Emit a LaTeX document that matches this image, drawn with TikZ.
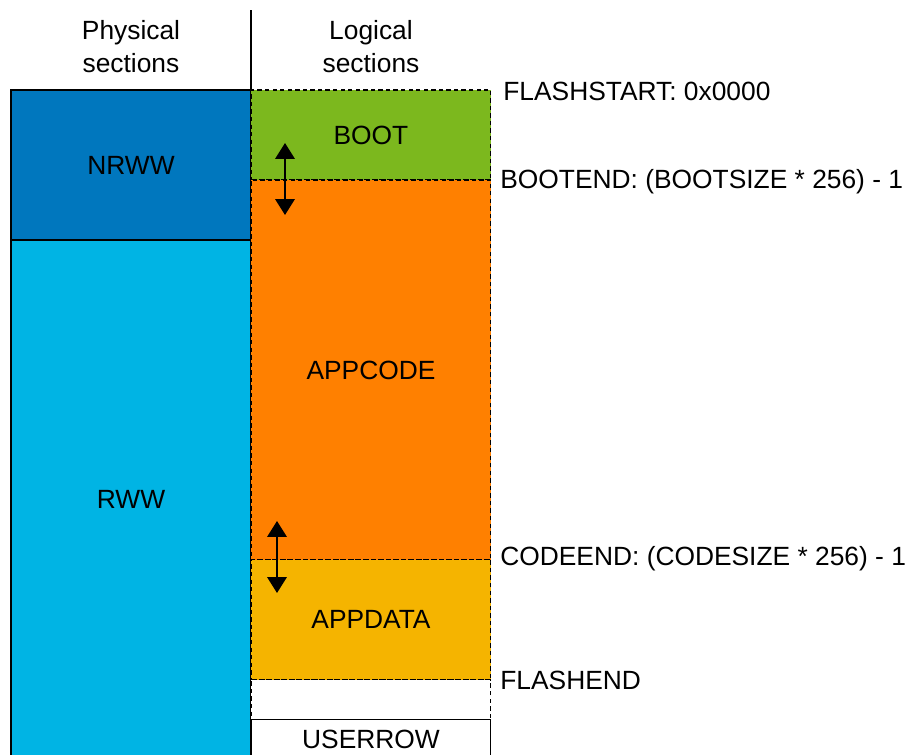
\documentclass[tikz,border=0pt]{standalone}
\usepackage{fontspec}
\setmainfont{Liberation Sans}
\usetikzlibrary{arrows.meta,positioning}
\definecolor{nrwwblue}{RGB}{0,119,190}
\definecolor{rwwblue}{RGB}{0,180,228}
\definecolor{bootgreen}{RGB}{124,184,30}
\definecolor{codeorange}{RGB}{255,128,0}
\definecolor{datayellow}{RGB}{245,180,0}
\begin{document}
\begin{tikzpicture}[x=0.02cm, y=-0.02cm,
          font=\fontsize{15}{18.7}\selectfont,
          phys/.style={draw, line width=0.6pt, minimum width=4.8cm,
                       inner sep=0pt, outer sep=0pt},
          logic/.style={draw, dash pattern=on 2.5pt off 1.8pt,
                        line width=0.6pt, minimum width=4.8cm,
                        inner sep=0pt, outer sep=0pt},
          addr/.style={anchor=west, inner sep=0pt},
          arr/.style={{Triangle[length=9pt,width=11pt]}-{Triangle[length=9pt,width=11pt]},
                      line width=1.1pt}
        ]
          \useasboundingbox (0,0) rectangle (909,754);
          % headers
          \node[align=center] (physhead) at (131,47) {Physical\\sections};
          \node[align=center] (loghead) at (371,47) {Logical\\sections};
          \coordinate (divtop) at (251,10);
          \coordinate (divbot) at (251,90);
          \draw[line width=0.6pt] (divtop) -- (divbot);
          % physical sections
          \node[phys, fill=nrwwblue, minimum height=3cm, anchor=north west] (nrww) at (11,90) {NRWW};
          \node[phys, fill=rwwblue, minimum height=10.4cm, below=0pt of nrww] (rww) {RWW};
          % logical sections
          \node[logic, fill=bootgreen, minimum height=1.8cm, anchor=north west] (boot) at (251,90) {BOOT};
          \node[logic, fill=codeorange, minimum height=7.6cm, below=0pt of boot] (appcode) {APPCODE};
          \node[logic, fill=datayellow, minimum height=2.4cm, below=0pt of appcode] (appdata) {APPDATA};
          \node[logic, minimum height=0.8cm, below=0pt of appdata] (spare) {};
          \node[phys, minimum height=0.8cm, below=0pt of spare] (userrow) {USERROW};
          % addresses
          \node[addr] (flashstart) at (503,91) {FLASHSTART: 0x0000};
          \node[addr] (bootend) at (500,182) {BOOTEND: (BOOTSIZE * 256) - 1};
          \node[addr] (codeend) at (500,559) {CODEEND: (CODESIZE * 256) - 1};
          \node[addr] (flashend) at (500,680) {FLASHEND};
          % movable boundaries
          \coordinate (bootup) at (285,143);
          \coordinate (bootdn) at (285,215);
          \coordinate (codeup) at (277,521);
          \coordinate (codedn) at (277,593);
          \draw[arr] (bootup) -- (bootdn);
          \draw[arr] (codeup) -- (codedn);
        \end{tikzpicture}
\end{document}
